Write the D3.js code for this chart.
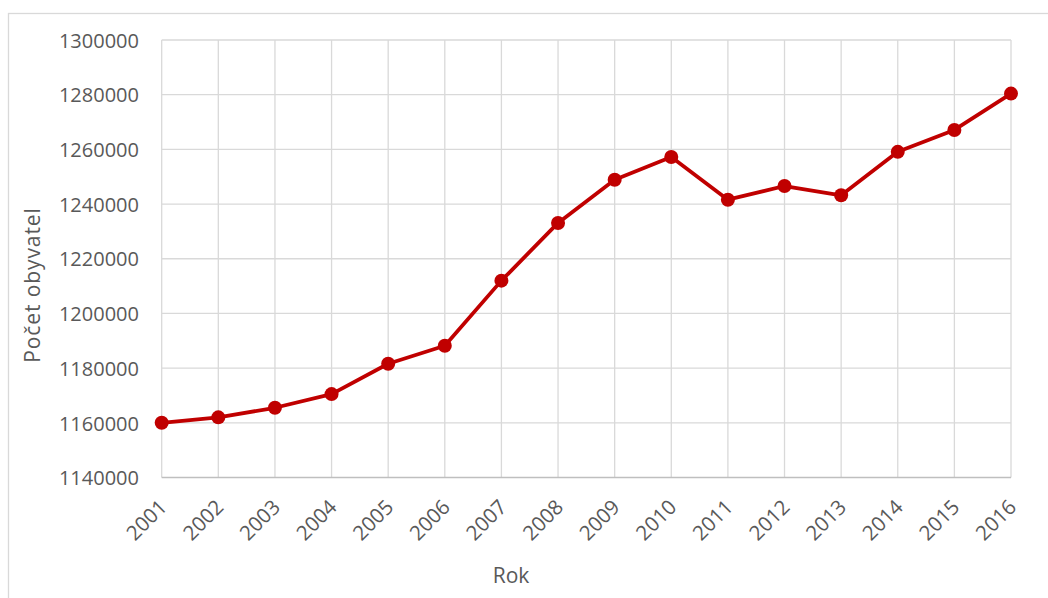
<!DOCTYPE html>
<html>
<head>
<meta charset="utf-8">
<script src="https://cdn.jsdelivr.net/npm/d3@7"></script>
<style>
  html, body { margin: 0; padding: 0; background: #ffffff; }
  svg { display: block; }
  text { font-family: "Open Sans", "DejaVu Sans", sans-serif; fill: #595959; }
</style>
</head>
<body>
<svg id="chart" width="1048" height="598"></svg>
<script>
// Population by year
const years = ["2001","2002","2003","2004","2005","2006","2007","2008",
               "2009","2010","2011","2012","2013","2014","2015","2016"];
const population = [1160000, 1162000, 1165500, 1170500, 1181600, 1188200, 1212000, 1233100,
                    1248900, 1257200, 1241600, 1246600, 1243200, 1259100, 1267100, 1280400];
const yTicks = [1140000, 1160000, 1180000, 1200000, 1220000, 1240000, 1260000, 1280000, 1300000];
const xTitle = "Rok";
const yTitle = "Počet obyvatel";

const svg = d3.select("#chart");
const W = 1048, H = 598;
const plot = { left: 161.7, right: 1011, top: 40, bottom: 477.5 };

// outer chart frame
svg.append("rect")
  .attr("x", 8.5).attr("y", 13.5)
  .attr("width", W + 20).attr("height", H + 20)
  .attr("fill", "#ffffff")
  .attr("stroke", "#d9d9d9").attr("stroke-width", 1.3);

const x = d3.scalePoint().domain(years).range([plot.left, plot.right]).padding(0);
const y = d3.scaleLinear().domain([1140000, 1300000]).range([plot.bottom, plot.top]);

// horizontal gridlines
svg.append("g")
  .selectAll("line")
  .data(yTicks.slice(1))
  .join("line")
  .attr("x1", plot.left).attr("x2", plot.right)
  .attr("y1", d => y(d)).attr("y2", d => y(d))
  .attr("stroke", "#d9d9d9").attr("stroke-width", 1.3);

// vertical gridlines
svg.append("g")
  .selectAll("line")
  .data(years)
  .join("line")
  .attr("x1", d => x(d)).attr("x2", d => x(d))
  .attr("y1", plot.top).attr("y2", plot.bottom)
  .attr("stroke", "#d9d9d9").attr("stroke-width", 1.3);

// x axis baseline
svg.append("line")
  .attr("x1", plot.left).attr("x2", plot.right)
  .attr("y1", y(1140000)).attr("y2", y(1140000))
  .attr("stroke", "#bfbfbf").attr("stroke-width", 1.5);

// y axis tick labels
const yAxis = d3.axisLeft(y).tickValues(yTicks).tickFormat(d3.format("d")).tickSize(0).tickPadding(0);
const gy = svg.append("g").attr("transform", `translate(${139},0)`).call(yAxis);
gy.select(".domain").remove();
gy.selectAll("text")
  .attr("font-size", 20)
  .attr("font-family", "Open Sans, DejaVu Sans, sans-serif")
  .attr("fill", "#595959")
  .attr("dy", "0.36em");

// x axis tick labels (rotated)
const xAxis = d3.axisBottom(x).tickSize(0).tickPadding(0);
const gx = svg.append("g").attr("transform", `translate(0,${plot.bottom})`).call(xAxis);
gx.select(".domain").remove();
gx.selectAll("text")
  .attr("font-size", 20.5)
  .attr("font-family", "Open Sans, DejaVu Sans, sans-serif")
  .attr("fill", "#595959")
  .attr("text-anchor", "end")
  .attr("dy", null)
  .attr("y", null)
  .attr("transform", "translate(6,31) rotate(-45)");

// series line
const line = d3.line().x((d, i) => x(years[i])).y(d => y(d));
svg.append("path")
  .datum(population)
  .attr("d", line)
  .attr("fill", "none")
  .attr("stroke", "#c00000")
  .attr("stroke-width", 3.8)
  .attr("stroke-linejoin", "round");

// series markers
svg.append("g")
  .selectAll("circle")
  .data(population)
  .join("circle")
  .attr("cx", (d, i) => x(years[i]))
  .attr("cy", d => y(d))
  .attr("r", 7)
  .attr("fill", "#c00000");

// axis titles
svg.append("text")
  .attr("x", 511).attr("y", 583)
  .attr("text-anchor", "middle")
  .attr("font-size", 21)
  .text(xTitle);

svg.append("text")
  .attr("transform", "translate(40,285) rotate(-90)")
  .attr("text-anchor", "middle")
  .attr("font-size", 21)
  .attr("letter-spacing", 0.9)
  .text(yTitle);
</script>
</body>
</html>
